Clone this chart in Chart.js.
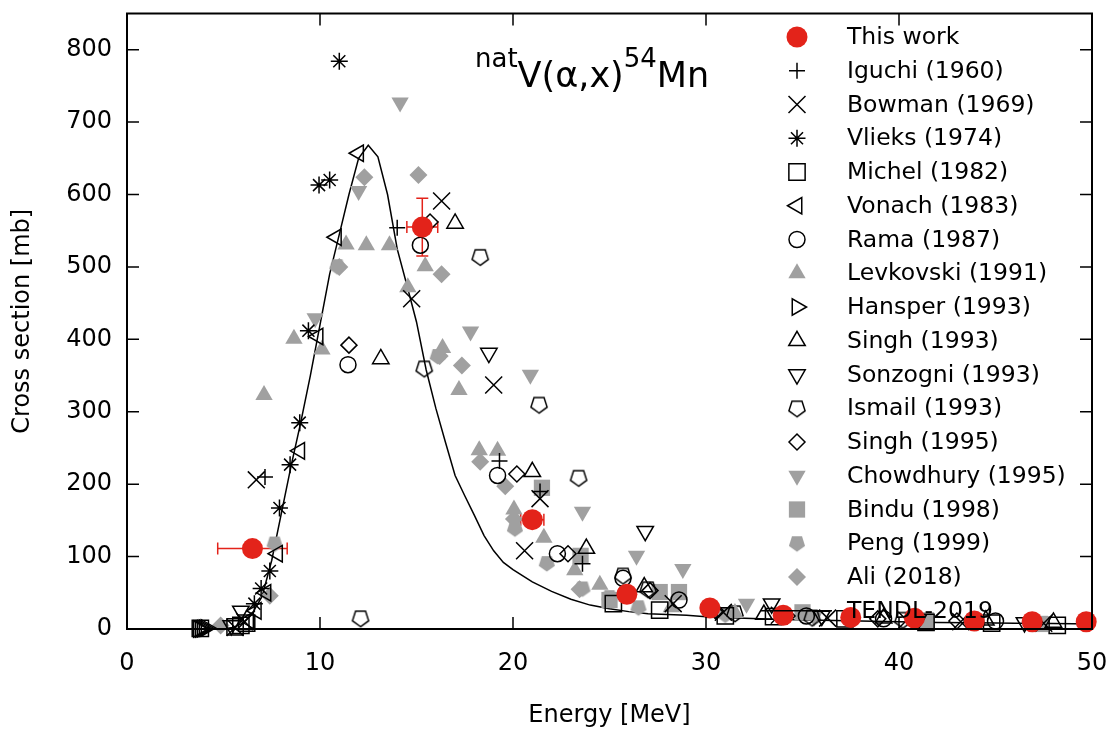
<!DOCTYPE html>
<html>
<head>
<meta charset="utf-8">
<script src="https://cdn.jsdelivr.net/npm/chart.js@4.4.0/dist/chart.umd.min.js"></script>
<style>
  html, body { margin: 0; padding: 0; background: #fff; }
</style>
</head>
<body>
<canvas id="chart" width="1118" height="731"></canvas>
<script>
// --- data: energy [MeV] / cross section [mb] ---
const thisWorkE  = [6.5, 15.3, 21.0, 25.9, 30.2, 34.0, 37.5, 40.8, 43.9, 46.9, 49.7];
const thisWorkS  = [111, 555, 151, 48, 29, 19, 16, 15, 11, 10, 10];
const thisWorkDE = [1.8, 0.8, 0.6, 0.4, 0.3, 0.3, 0.3, 0.3, 0.3, 0.3, 0.3];
const thisWorkDS = [8, 40, 10, 4, 2, 2, 1, 1, 1, 1, 1];

const iguchiE = [7.15, 14.0, 19.3, 21.4, 23.6];
const iguchiS = [210, 554, 232, 190, 90];

const bowmanE = [5.6, 6.1, 6.7, 14.75, 16.3, 19.0, 20.6, 21.4, 28.3, 30.9, 33.8, 36.3, 40.4, 43.2, 47.5];
const bowmanS = [2, 10, 206, 456, 591, 337, 108, 180, 35, 23, 19, 15, 12, 10, 8];

const vlieksE = [6.6, 6.95, 7.4, 7.9, 8.45, 8.95, 9.4, 9.95, 10.5, 11.0];
const vlieksS = [35, 56, 80, 167, 227, 285, 412, 613, 620, 784];

const michelE = [3.8, 5.6, 5.9, 6.2, 25.2, 27.6, 31.0, 33.5, 37.2, 41.4, 44.8, 48.2];
const michelS = [1, 3, 5, 8, 35, 26, 18, 17, 14, 9, 8, 5];

const vonachE = [6.3, 6.7, 7.2, 7.8, 8.95, 9.9, 10.85, 12.0];
const vonachS = [12, 25, 50, 104, 246, 404, 541, 657];

const ramaE = [11.45, 15.2, 19.2, 22.3, 25.7, 28.6, 35.2, 39.2, 45.0];
const ramaS = [365, 530, 212, 104, 70, 40, 18, 14, 11];

const levkovskiE = [7.1, 8.65, 10.1, 11.35, 12.4, 13.6, 14.55, 15.45, 16.35, 17.2, 18.25, 19.2, 20.05, 21.6, 23.2, 24.5, 25.9, 28.2, 31.5];
const levkovskiS = [323, 401, 386, 531, 530, 530, 472, 501, 388, 330, 247, 246, 165, 126, 81, 61, 45, 30, 22];

const hansperE = [3.7, 3.8, 3.9, 4.0, 4.1];
const hansperS = [0, 0, 0.5, 1, 1.5];

const singh93E = [13.15, 17.0, 21.0, 23.8, 26.8, 33.0, 39.2, 44.5, 48.0];
const singh93S = [373, 560, 217, 111, 58, 20, 15, 12, 9];

const sonzogniE = [5.4, 5.9, 18.75, 26.85, 33.4, 36.0, 41.0, 46.5];
const sonzogniS = [5, 25, 381, 135, 35, 18, 13, 9];

const ismailE = [12.1, 15.4, 18.3, 21.35, 23.4, 25.7, 27.0, 31.5, 35.5, 40.2, 44.0];
const ismailS = [15, 360, 514, 310, 209, 74, 55, 22, 16, 13, 10];

const singh95E = [11.5, 15.7, 20.2, 22.85, 27.1, 30.5, 34.2, 38.9, 43.0, 47.0];
const singh95S = [392, 562, 214, 104, 53, 25, 18, 14, 11, 9];

const chowdhuryE = [9.75, 12.0, 14.15, 17.8, 20.9, 23.6, 26.4, 28.8, 32.1, 35.6];
const chowdhuryS = [429, 605, 727, 411, 351, 162, 101, 83, 35, 17];

const binduE = [21.5, 23.5, 25.0, 27.6, 28.6, 35.0, 41.4, 47.3];
const binduS = [195, 101, 40, 51, 51, 23, 12, 7];

const pengE = [7.65, 10.9, 16.1, 20.1, 21.75, 23.6, 25.0, 26.5, 31.0];
const pengS = [118, 501, 377, 139, 91, 56, 44, 30, 20];

const aliE = [4.85, 7.4, 11.0, 12.3, 15.1, 16.2, 16.3, 17.35, 18.3, 19.6, 20.05, 23.45];
const aliS = [5, 46, 500, 624, 627, 377, 490, 364, 231, 197, 152, 55];

const tendlE = [4.5, 5.0, 5.5, 6.0, 6.5, 7.0, 7.5, 8.0, 8.5, 9.0, 9.5, 10.0, 10.5, 11.0, 11.5, 12.0, 12.5, 13.0, 13.5, 14.0, 14.5, 15.0, 15.5, 16.0, 16.5, 17.0, 17.5, 18.0, 18.5, 19.0, 19.5, 20, 21, 22, 23, 24, 25, 26, 27, 28, 29, 30, 32, 34, 36, 38, 40, 42, 44, 46, 48, 50];
const tendlS = [0, 0.5, 2, 8, 22, 45, 95, 160, 225, 285, 350, 420, 490, 545, 600, 650, 668, 652, 600, 525, 475, 424, 358, 305, 258, 212, 184, 157, 129, 108, 92, 82, 65, 52, 41, 33, 28, 24, 21, 20, 19, 17, 15, 13, 12, 11, 10, 9, 8.5, 8, 7.5, 7];

const yTicks = [0, 100, 200, 300, 400, 500, 600, 700, 800];

// --- styles ---
const GRAY = '#a0a0a0';
const RED = '#e3231a';
const FONT = "'DejaVu Sans'";

function pts(E, S) { return E.map((e, i) => ({ x: e, y: S[i] })); }

function pentagon(fill) {
  const c = document.createElement('canvas');
  c.width = 22; c.height = 22;
  const g = c.getContext('2d');
  g.beginPath();
  for (let k = 0; k < 5; k++) {
    const a = Math.PI / 2 + k * 2 * Math.PI / 5; // point down
    const px = 11 + 8.5 * Math.cos(a), py = 11 + 8.5 * Math.sin(a);
    k ? g.lineTo(px, py) : g.moveTo(px, py);
  }
  g.closePath();
  if (fill) { g.fillStyle = GRAY; g.fill(); }
  else { g.strokeStyle = '#000'; g.lineWidth = 1.5; g.stroke(); }
  return c;
}

function series(label, E, S, style, radius, filled, color, rotation) {
  return {
    label, data: pts(E, S),
    pointStyle: style, pointRadius: radius, pointRotation: rotation || 0,
    pointBackgroundColor: filled ? color : 'rgba(0,0,0,0)',
    pointBorderColor: filled ? color : '#000',
    pointBorderWidth: filled ? 0 : 1.5,
    showLine: false, clip: false
  };
}

const datasets = [
  series('This work', thisWorkE, thisWorkS, 'circle', 10.5, true, RED),
  series('Iguchi (1960)', iguchiE, iguchiS, 'cross', 8),
  series('Bowman (1969)', bowmanE, bowmanS, 'crossRot', 12),
  series('Vlieks (1974)', vlieksE, vlieksS, 'star', 8.5),
  series('Michel (1982)', michelE, michelS, 'rect', 11.5),
  series('Vonach (1983)', vonachE, vonachS, 'triangle', 9.5, false, null, -90),
  series('Rama (1987)', ramaE, ramaS, 'circle', 8),
  series('Levkovski (1991)', levkovskiE, levkovskiS, 'triangle', 10, true, GRAY),
  series('Hansper (1993)', hansperE, hansperS, 'triangle', 9.5, false, null, 90),
  series('Singh (1993)', singh93E, singh93S, 'triangle', 9.5),
  series('Sonzogni (1993)', sonzogniE, sonzogniS, 'triangle', 9.5, false, null, 180),
  series('Ismail (1993)', ismailE, ismailS, pentagon(false), 8),
  series('Singh (1995)', singh95E, singh95S, 'rectRot', 8),
  series('Chowdhury (1995)', chowdhuryE, chowdhuryS, 'triangle', 10, true, GRAY, 180),
  series('Bindu (1998)', binduE, binduS, 'rect', 11.5, true, GRAY),
  series('Peng (1999)', pengE, pengS, pentagon(true), 8),
  series('Ali (2018)', aliE, aliS, 'rectRot', 9, true, GRAY),
  {
    label: 'TENDL-2019', data: pts(tendlE, tendlS),
    showLine: true, borderColor: '#000', borderWidth: 1.5, pointRadius: 0,
    tension: 0, clip: false
  }
];

// frame with inward ticks, error bars, legend and reaction label
const decorations = {
  id: 'decorations',
  beforeDatasetsDraw(chart) {
    const { ctx, scales: { x, y } } = chart;
    ctx.save();
    ctx.strokeStyle = RED;
    ctx.lineWidth = 1.5;
    const cap = 6;
    thisWorkE.forEach((e, i) => {
      const s = thisWorkS[i];
      const x0 = x.getPixelForValue(e - thisWorkDE[i]), x1 = x.getPixelForValue(e + thisWorkDE[i]);
      const y0 = y.getPixelForValue(s - thisWorkDS[i]), y1 = y.getPixelForValue(s + thisWorkDS[i]);
      const px = x.getPixelForValue(e), py = y.getPixelForValue(s);
      ctx.beginPath();
      ctx.moveTo(x0, py); ctx.lineTo(x1, py);
      ctx.moveTo(x0, py - cap); ctx.lineTo(x0, py + cap);
      ctx.moveTo(x1, py - cap); ctx.lineTo(x1, py + cap);
      ctx.moveTo(px, y0); ctx.lineTo(px, y1);
      ctx.moveTo(px - cap, y0); ctx.lineTo(px + cap, y0);
      ctx.moveTo(px - cap, y1); ctx.lineTo(px + cap, y1);
      ctx.stroke();
    });
    ctx.restore();
  },
  afterDraw(chart) {
    const { ctx, chartArea: { left, right, top, bottom }, scales: { x, y } } = chart;
    ctx.save();
    ctx.strokeStyle = '#000';
    ctx.lineWidth = 1.5;
    ctx.beginPath();
    x.ticks.forEach(t => {
      const px = x.getPixelForValue(t.value);
      ctx.moveTo(px, bottom); ctx.lineTo(px, bottom - 12);
      ctx.moveTo(px, top); ctx.lineTo(px, top + 12);
    });
    y.ticks.forEach(t => {
      const py = y.getPixelForValue(t.value);
      ctx.moveTo(left, py); ctx.lineTo(left + 12, py);
      ctx.moveTo(right, py); ctx.lineTo(right - 12, py);
    });
    ctx.stroke();
    ctx.lineWidth = 2;
    ctx.strokeRect(left, top, right - left, bottom - top);

    // legend
    const drawPoint = Chart.helpers.drawPoint;
    ctx.font = '23.5px ' + FONT;
    ctx.fillStyle = '#000';
    ctx.textBaseline = 'middle';
    chart.data.datasets.forEach((ds, i) => {
      const ly = 37 + i * 33.75;
      if (ds.showLine) {
        ctx.strokeStyle = '#000';
        ctx.lineWidth = 1.5;
        ctx.beginPath(); ctx.moveTo(761, ly); ctx.lineTo(832, ly); ctx.stroke();
      } else {
        ctx.save();
        ctx.fillStyle = ds.pointBackgroundColor;
        ctx.strokeStyle = ds.pointBorderColor;
        ctx.lineWidth = ds.pointBorderWidth;
        drawPoint(ctx, {
          pointStyle: ds.pointStyle, rotation: ds.pointRotation,
          radius: ds.pointRadius, borderWidth: ds.pointBorderWidth
        }, 797, ly);
        ctx.restore();
      }
      ctx.fillStyle = '#000';
      ctx.fillText(ds.label, 847, ly + 1);
    });

    // reaction label
    ctx.textBaseline = 'alphabetic';
    let cx = 475;
    const parts = [['nat', 26, 67], ['V(α,x)', 35, 87], ['54', 26, 67], ['Mn', 35, 87]];
    parts.forEach(([txt, size, base]) => {
      ctx.font = size + 'px ' + FONT;
      ctx.fillText(txt, cx, base);
      cx += ctx.measureText(txt).width;
    });
    ctx.restore();
  }
};

const tickFont = { family: FONT, size: 24 };

const chart = new Chart(document.getElementById('chart').getContext('2d'), {
  type: 'scatter',
  data: { datasets },
  options: {
    responsive: false,
    animation: false,
    layout: { padding: { top: 7, right: 26, left: 0, bottom: 0 } },
    plugins: { legend: { display: false }, tooltip: { enabled: false } },
    scales: {
      x: {
        type: 'linear', min: 0, max: 50,
        ticks: { stepSize: 10, font: tickFont, color: '#000', padding: 20, maxRotation: 0 },
        grid: { display: false, drawTicks: false },
        border: { display: false },
        title: { display: true, text: 'Energy [MeV]', font: tickFont, color: '#000', padding: { top: 0, bottom: 1 } },
        afterFit(s) { s.height = 102; s.paddingLeft = 0; s.paddingRight = 0; }
      },
      y: {
        type: 'linear', min: 0, max: 850,
        ticks: { font: tickFont, color: '#000', padding: 15 },
        afterBuildTicks(s) { s.ticks = yTicks.map(v => ({ value: v })); },
        grid: { display: false, drawTicks: false },
        border: { display: false },
        title: { display: true, text: 'Cross section [mb]', font: tickFont, color: '#000', padding: { top: 8, bottom: 0 } },
        afterFit(s) { s.width = 127; s.paddingTop = 0; s.paddingBottom = 0; }
      }
    }
  },
  plugins: [decorations]
});
</script>
</body>
</html>
